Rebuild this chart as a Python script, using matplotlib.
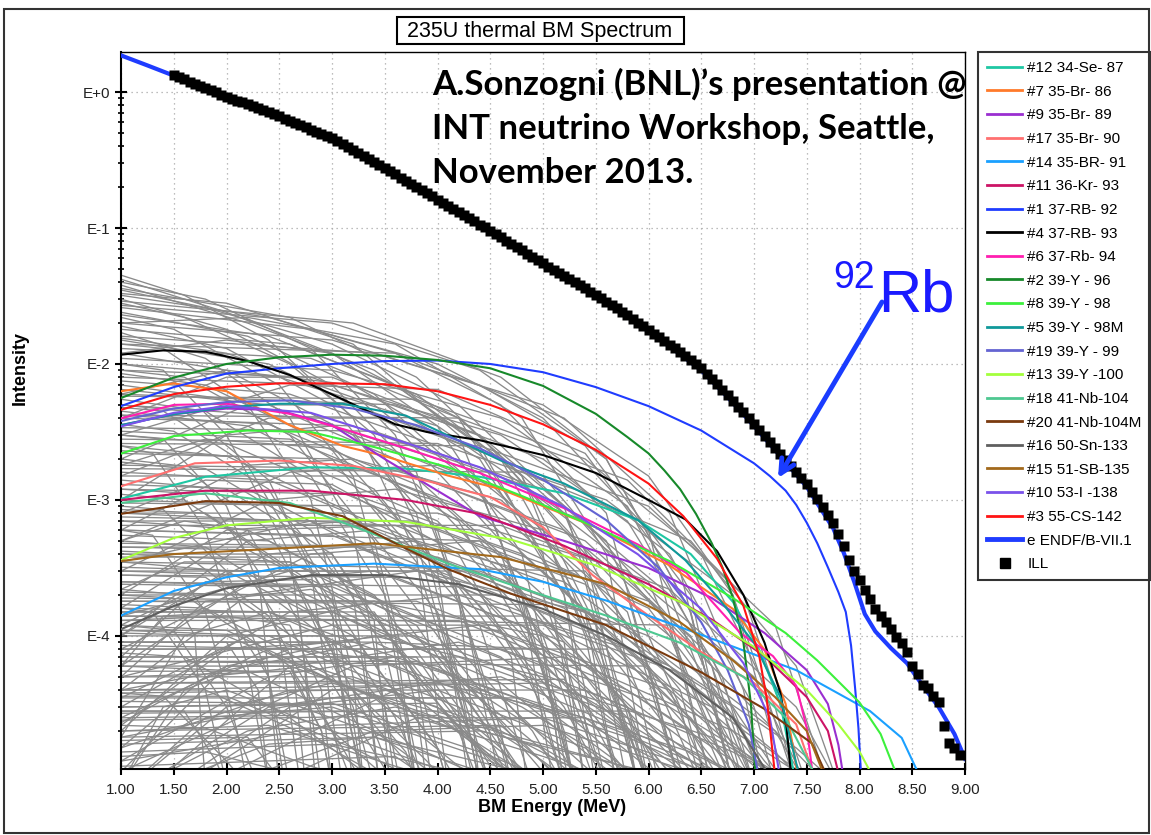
import numpy as np
import matplotlib
matplotlib.use("Agg")
import matplotlib.pyplot as plt
from matplotlib.lines import Line2D
from matplotlib.patches import Rectangle
from matplotlib.ticker import FixedLocator, FixedFormatter, LogLocator, NullFormatter

plt.rcParams['font.family'] = ['Liberation Sans', 'DejaVu Sans']

# ILL measured spectrum, 50 keV steps
ill_energy = np.round(np.linspace(1.5, 8.95, 150), 2)
ill_intensity = [
    1.33, 1.29, 1.24, 1.19, 1.15, 1.11, 1.07, 1.03, 0.993, 0.957,
    0.923, 0.893, 0.865, 0.838, 0.811, 0.785, 0.759, 0.733, 0.708, 0.684,
    0.661, 0.637, 0.614, 0.592, 0.570, 0.550, 0.530, 0.511, 0.492, 0.474,
    0.457, 0.435, 0.413, 0.393, 0.373, 0.355, 0.337, 0.321, 0.305, 0.290,
    0.275, 0.261, 0.248, 0.235, 0.223, 0.211, 0.200, 0.190, 0.180, 0.171,
    0.162, 0.154, 0.146, 0.138, 0.131, 0.124, 0.118, 0.112, 0.106, 0.101,
    0.0955, 0.0904, 0.0855, 0.0809, 0.0766, 0.0724, 0.0685, 0.0649, 0.0614, 0.0581,
    0.0550, 0.0521, 0.0494, 0.0469, 0.0445, 0.0422, 0.0400, 0.0379, 0.0360, 0.0341,
    0.0324, 0.0305, 0.0288, 0.0272, 0.0257, 0.0243, 0.0228, 0.0214, 0.0201, 0.0189,
    0.0178, 0.0167, 0.0157, 0.0148, 0.0139, 0.0130, 0.0122, 0.0114, 0.0107, 0.00998,
    0.00933, 0.00851, 0.00776, 0.00708, 0.00646, 0.00589, 0.00535, 0.00485, 0.00441, 0.00400,
    0.00363, 0.00328, 0.00296, 0.00268, 0.00242, 0.00219, 0.00198, 0.00179, 0.00161, 0.00146,
    0.00132, 0.00115, 0.00101, 8.83e-4, 7.73e-4, 6.76e-4, 5.62e-4, 4.57e-4, 3.63e-4, 3.02e-4,
    2.57e-4, 2.19e-4, 1.86e-4, 1.58e-4, 1.41e-4, 1.26e-4, 1.12e-4, 9.77e-5, 8.91e-5, 7.59e-5,
    6.03e-5, 5.25e-5, 4.37e-5, 4.12e-5, 3.63e-5, 3.24e-5, 2.19e-5, 1.62e-5, 1.51e-5, 1.32e-5,
]

# ENDF/B-VII.1 summation
endf_energy = [1.00, 1.25, 1.50, 1.75, 2.00, 2.25, 2.50, 2.75, 3.00, 3.25, 3.50, 3.75,
               4.00, 4.25, 4.50, 4.75, 5.00, 5.25, 5.50, 5.75, 6.00, 6.25, 6.50, 6.75,
               7.00, 7.25, 7.50, 7.75, 7.85, 7.95, 8.05, 8.15, 8.30, 8.45, 8.60, 8.75,
               8.90, 9.00]
endf_intensity = [1.86, 1.57, 1.32, 1.10, 0.915, 0.78, 0.655, 0.545, 0.452, 0.352, 0.272, 0.209,
                  0.160, 0.123, 0.0945, 0.0715, 0.0543, 0.0416, 0.0318, 0.0238, 0.0174, 0.0126,
                  0.0090, 0.0057, 0.0035, 0.0021, 0.00125, 6.2e-4, 4.1e-4, 2.5e-4, 1.45e-4,
                  1.08e-4, 8.1e-5, 6.3e-5, 4.3e-5, 3.0e-5, 1.9e-5, 1.25e-5]

# individual nuclides (legend order)
nuclide_labels = ['#12 34-Se- 87', '#7 35-Br- 86', '#9 35-Br- 89', '#17 35-Br- 90',
                  '#14 35-BR- 91', '#11 36-Kr- 93', '#1 37-RB- 92', '#4 37-RB- 93',
                  '#6 37-Rb- 94', '#2 39-Y - 96', '#8 39-Y - 98', '#5 39-Y - 98M',
                  '#19 39-Y - 99', '#13 39-Y -100', '#18 41-Nb-104', '#20 41-Nb-104M',
                  '#16 50-Sn-133', '#15 51-SB-135', '#10 53-I -138', '#3 55-CS-142']
nuclide_colors = ['#1fc7a3', '#ff7a2a', '#9a2fd0', '#ff7070', '#1aa0ff', '#cc1466',
                  '#1f3cff', '#000000', '#ff1fb0', '#17892a', '#3cf03c', '#10999a',
                  '#6464d2', '#a4ff3c', '#4ec891', '#7a3a0e', '#5f5f5f', '#a2691c',
                  '#7a52ea', '#ff1414']

se87_e = [1.0, 1.8, 2.8, 3.7, 4.4, 5.2, 5.9, 6.4, 6.8, 7.05, 7.25, 7.4]
se87_i = [1.02e-3, 1.48e-3, 1.74e-3, 1.7e-3, 1.48e-3, 1.12e-3, 7.1e-4, 4.0e-4, 1.78e-4, 7.9e-5, 3.16e-5, 8e-6]
br86_e = [1.0, 1.5, 2.0, 2.6, 3.1, 3.5, 4.1, 4.6, 5.5, 6.2, 6.8, 7.1, 7.3, 7.43]
br86_i = [6.3e-3, 7.2e-3, 6.3e-3, 3.55e-3, 2.5e-3, 2.1e-3, 1.51e-3, 1.2e-3, 6.3e-4, 3.3e-4, 1.58e-4, 7.9e-5, 3.16e-5, 8e-6]
br89_e = [1.0, 1.5, 2.0, 2.5, 3.0, 3.5, 4.4, 5.2, 6.0, 6.6, 7.1, 7.5, 7.7, 7.8, 7.86]
br89_i = [3.55e-3, 4.27e-3, 4.7e-3, 4.57e-3, 3.55e-3, 2.0e-3, 7.6e-4, 5.0e-4, 3.16e-4, 1.9e-4, 1.05e-4, 5.6e-5, 3.16e-5, 1.58e-5, 8e-6]
br90_e = [1.0, 1.7, 2.5, 3.2, 3.9, 4.5, 5.0, 5.47, 6.0, 6.5, 7.0, 7.4, 7.6]
br90_i = [1.26e-3, 1.86e-3, 1.95e-3, 1.78e-3, 1.38e-3, 1.05e-3, 6.3e-4, 2.8e-4, 1.41e-4, 7.6e-5, 4.5e-5, 2.24e-5, 8e-6]
br91_e = [1.0, 1.5, 2.0, 2.5, 3.4, 4.4, 5.0, 5.6, 6.5, 7.4, 8.1, 8.4, 8.61]
br91_i = [1.41e-4, 2.14e-4, 2.7e-4, 3.16e-4, 3.4e-4, 3.1e-4, 2.5e-4, 1.82e-4, 1.02e-4, 5.6e-5, 2.8e-5, 1.78e-5, 8e-6]
kr93_e = [1.0, 1.8, 2.8, 3.7, 4.4, 5.2, 6.0, 6.6, 7.1, 7.5, 7.7, 7.83]
kr93_i = [1.0e-3, 1.17e-3, 1.17e-3, 1.0e-3, 7.9e-4, 4.6e-4, 2.4e-4, 1.32e-4, 7.1e-5, 3.55e-5, 2.0e-5, 8e-6]
rb92_e = [1.0, 1.5, 2.0, 2.5, 3.0, 3.5, 4.0, 4.5, 5.0, 5.5, 6.0, 6.5, 7.0, 7.15, 7.3, 7.4, 7.5,
          7.6, 7.7, 7.8, 7.87, 7.92, 7.96, 7.99, 8.02]
rb92_i = [4.9e-3, 6.76e-3, 8.5e-3, 9.3e-3, 1.0e-2, 1.05e-2, 1.06e-2, 1.0e-2, 8.7e-3, 6.76e-3,
          4.9e-3, 3.24e-3, 1.86e-3, 1.5e-3, 1.17e-3, 9.2e-4, 6.8e-4, 4.8e-4, 3.2e-4, 2.1e-4,
          1.5e-4, 8.5e-5, 4.0e-5, 2.1e-5, 8e-6]
rb93_e = [1.0, 1.4, 1.8, 2.2, 2.6, 3.1, 3.6, 3.9, 4.4, 5.0, 5.5, 6.0, 6.35, 6.65, 6.9, 7.1, 7.25, 7.31, 7.36]
rb93_i = [1.17e-2, 1.26e-2, 1.23e-2, 1.05e-2, 8.3e-3, 5.5e-3, 3.6e-3, 3.16e-3, 2.75e-3, 2.14e-3, 1.58e-3, 1.0e-3, 7.2e-4, 4.2e-4, 2.0e-4, 8.9e-5, 3.8e-5, 2.1e-5, 8e-6]
rb94_e = [1.0, 1.5, 2.0, 2.6, 3.2, 3.7, 4.4, 5.2, 5.9, 6.36, 6.87, 7.18, 7.40, 7.50, 7.57]
rb94_i = [3.98e-3, 5.0e-3, 5.1e-3, 4.3e-3, 3.16e-3, 2.4e-3, 1.58e-3, 8.7e-4, 4.7e-4, 2.9e-4, 1.05e-4, 7.1e-5, 4.3e-5, 2.1e-5, 8e-6]
y96_e = [1.0, 1.5, 2.0, 2.5, 3.0, 3.5, 4.0, 4.5, 5.0, 5.5, 5.8, 6.0, 6.15, 6.3, 6.45, 6.6, 6.7,
         6.8, 6.9, 6.97, 7.02]
y96_i = [5.62e-3, 7.94e-3, 1.0e-2, 1.12e-2, 1.17e-2, 1.15e-2, 1.07e-2, 9.3e-3, 6.9e-3, 4.3e-3,
         2.9e-3, 2.2e-3, 1.65e-3, 1.2e-3, 7.9e-4, 4.8e-4, 3.2e-4, 1.9e-4, 8.9e-5, 3.2e-5, 8e-6]
y98_e = [1.0, 1.5, 2.2, 2.8, 3.4, 4.1, 4.8, 5.5, 6.2, 6.8, 7.3, 7.6, 8.0, 8.2, 8.39]
y98_i = [2.19e-3, 2.95e-3, 3.24e-3, 3.16e-3, 2.45e-3, 1.74e-3, 1.07e-3, 6.3e-4, 3.55e-4, 1.9e-4, 1.05e-4, 6.6e-5, 3.24e-5, 1.9e-5, 8e-6]
y98m_e = [1.0, 1.5, 2.0, 2.5, 3.1, 3.7, 4.6, 5.2, 5.9, 6.35, 6.65, 7.0, 7.25, 7.45]
y98m_i = [3.55e-3, 4.27e-3, 4.8e-3, 5.1e-3, 5.1e-3, 4.17e-3, 1.95e-3, 1.32e-3, 7.1e-4, 3.6e-4, 1.95e-4, 8.9e-5, 3.55e-5, 8e-6]
y99_e = [1.0, 1.5, 2.0, 2.6, 3.2, 3.8, 4.4, 5.0, 5.6, 6.1, 6.5, 6.75, 6.95, 7.06]
y99_i = [3.8e-3, 4.7e-3, 5.25e-3, 5.4e-3, 4.7e-3, 3.55e-3, 2.4e-3, 1.41e-3, 7.1e-4, 3.16e-4, 1.26e-4, 5.6e-5, 2.24e-5, 8e-6]
y100_e = [1.0, 1.5, 2.0, 2.8, 3.7, 4.7, 5.5, 6.3, 7.0, 7.5, 7.8, 8.0, 8.17]
y100_i = [3.6e-4, 5.25e-4, 6.5e-4, 7.4e-4, 6.9e-4, 5.1e-4, 3.3e-4, 1.78e-4, 8.3e-5, 4.0e-5, 2.24e-5, 1.41e-5, 8e-6]
nb104_e = [1.0, 1.8, 2.6, 3.4, 4.1, 4.8, 5.6, 6.3, 6.9, 7.3, 7.63]
nb104_i = [9.5e-4, 1.12e-3, 9.5e-4, 5.6e-4, 3.4e-4, 2.24e-4, 1.41e-4, 8.9e-5, 5.0e-5, 2.5e-5, 8e-6]
nb104m_e = [1.0, 1.8, 2.5, 3.1, 3.6, 4.1, 4.7, 5.6, 6.5, 7.1, 7.55, 7.73]
nb104m_i = [7.9e-4, 9.8e-4, 9.5e-4, 7.6e-4, 4.8e-4, 3.1e-4, 2.04e-4, 1.2e-4, 5.4e-5, 2.9e-5, 1.62e-5, 8e-6]
sn133_e = [1.0, 1.5, 2.0, 2.8, 3.5, 4.2, 5.0, 5.6, 6.2, 6.8, 7.2]
sn133_i = [1.12e-4, 1.66e-4, 2.24e-4, 2.8e-4, 2.8e-4, 2.4e-4, 1.58e-4, 1.0e-4, 5.6e-5, 2.5e-5, 8e-6]
sb135_e = [1.0, 1.5, 2.2, 3.4, 4.6, 5.6, 6.3, 6.8, 7.2, 7.5, 7.7]
sb135_i = [3.55e-4, 4.0e-4, 4.27e-4, 4.8e-4, 3.8e-4, 2.4e-4, 1.26e-4, 6.6e-5, 3.55e-5, 2.0e-5, 8e-6]
i138_e = [1.0, 1.5, 2.0, 2.8, 3.7, 4.4, 5.2, 5.9, 6.5, 6.9, 7.15, 7.26]
i138_i = [3.47e-3, 4.37e-3, 4.9e-3, 4.37e-3, 2.63e-3, 1.74e-3, 8.9e-4, 3.98e-4, 1.58e-4, 6.3e-5, 2.5e-5, 8e-6]
cs142_e = [1.0, 1.5, 2.0, 2.5, 3.0, 3.5, 4.0, 4.5, 5.0, 5.5, 6.0, 6.33, 6.65, 6.9, 7.05, 7.12, 7.21]
cs142_i = [4.6e-3, 6.0e-3, 6.8e-3, 7.2e-3, 7.2e-3, 7.1e-3, 6.3e-3, 5.0e-3, 3.6e-3, 2.34e-3, 1.32e-3, 7.6e-4, 3.7e-4, 1.66e-4, 7.1e-5, 3.5e-5, 8e-6]

nuclide_energy = [se87_e, br86_e, br89_e, br90_e, br91_e, kr93_e, rb92_e, rb93_e, rb94_e, y96_e,
                  y98_e, y98m_e, y99_e, y100_e, nb104_e, nb104m_e, sn133_e, sb135_e, i138_e, cs142_e]
nuclide_intensity = [se87_i, br86_i, br89_i, br90_i, br91_i, kr93_i, rb92_i, rb93_i, rb94_i, y96_i,
                     y98_i, y98m_i, y99_i, y100_i, nb104_i, nb104m_i, sn133_i, sb135_i, i138_i, cs142_i]

# all remaining nuclides, drawn in grey: (energy, intensity) nodes
other_nuclides = [
    [(1.0, 4.2e-2), (2.0, 2.4e-2), (3.0, 1.2e-2), (4.0, 3.5e-3), (4.8, 4e-4), (5.3, 8e-6)],
    [(1.0, 3.8e-2), (2.2, 2.0e-2), (3.4, 9e-3), (4.4, 2.5e-3), (5.2, 2e-4), (5.6, 8e-6)],
    [(1.0, 3.5e-2), (1.8, 2.6e-2), (3.0, 1.4e-2), (4.2, 5e-3), (5.2, 9e-4), (6.0, 8e-6)],
    [(1.0, 3.2e-2), (2.4, 2.2e-2), (3.6, 1.2e-2), (4.6, 5e-3), (5.6, 8e-4), (6.3, 8e-6)],
    [(1.0, 3.0e-2), (2.0, 1.8e-2), (3.0, 7e-3), (3.8, 1.6e-3), (4.3, 1e-4), (4.6, 8e-6)],
    [(1.0, 2.8e-2), (1.6, 2.2e-2), (2.6, 1.0e-2), (3.4, 3e-3), (4.0, 3e-4), (4.3, 8e-6)],
    [(1.0, 2.6e-2), (2.8, 1.8e-2), (4.0, 1.0e-2), (5.0, 4e-3), (6.0, 6e-4), (6.6, 8e-6)],
    [(1.0, 2.4e-2), (2.2, 1.6e-2), (3.4, 6e-3), (4.4, 1.2e-3), (5.0, 8e-5), (5.2, 8e-6)],
    [(1.0, 2.2e-2), (1.5, 1.8e-2), (2.5, 7e-3), (3.2, 1.5e-3), (3.6, 1e-4), (3.8, 8e-6)],
    [(1.0, 2.0e-2), (3.0, 1.5e-2), (4.4, 7e-3), (5.4, 2.5e-3), (6.3, 3e-4), (6.8, 8e-6)],
    [(1.0, 1.9e-2), (2.0, 1.3e-2), (3.0, 5e-3), (3.8, 8e-4), (4.2, 5e-5), (4.4, 8e-6)],
    [(1.0, 1.8e-2), (2.6, 1.4e-2), (3.8, 6e-3), (4.8, 1.5e-3), (5.5, 1.2e-4), (5.8, 8e-6)],
    [(1.0, 1.7e-2), (1.8, 1.1e-2), (2.6, 4e-3), (3.2, 6e-4), (3.5, 3e-5), (3.6, 8e-6)],
    [(1.0, 1.6e-2), (3.4, 1.2e-2), (5.0, 5e-3), (6.0, 1.5e-3), (6.8, 2e-4), (7.3, 8e-6)],
    [(1.0, 1.5e-2), (2.4, 1.0e-2), (3.6, 3.5e-3), (4.6, 5e-4), (5.1, 3e-5), (5.3, 8e-6)],
    [(1.0, 1.4e-2), (1.4, 1.3e-2), (2.2, 5e-3), (2.8, 1e-3), (3.2, 5e-5), (3.3, 8e-6)],
    [(1.0, 1.3e-2), (2.8, 1.1e-2), (4.2, 4e-3), (5.2, 8e-4), (5.9, 4e-5), (6.1, 8e-6)],
    [(1.0, 1.2e-2), (2.0, 9e-3), (3.2, 3e-3), (4.0, 6e-4), (4.6, 2e-5), (4.7, 8e-6)],
    [(1.0, 1.0e-2), (2.5, 8e-3), (4.0, 3.5e-3), (5.2, 8e-4), (6.0, 6e-5), (6.3, 8e-6)],
    [(1.0, 9e-3), (1.6, 8e-3), (2.6, 3e-3), (3.4, 5e-4), (3.8, 3e-5), (3.9, 8e-6)],
    [(1.0, 8e-3), (3.0, 7e-3), (4.6, 3e-3), (5.8, 7e-4), (6.7, 5e-5), (7.0, 8e-6)],
    [(1.0, 7e-3), (2.0, 5.5e-3), (3.0, 2e-3), (3.8, 3.5e-4), (4.3, 2e-5), (4.4, 8e-6)],
    [(1.0, 6.5e-3), (2.4, 5e-3), (3.6, 2e-3), (4.6, 4e-4), (5.2, 2e-5), (5.3, 8e-6)],
    [(1.0, 6e-3), (3.6, 5e-3), (5.0, 2e-3), (6.2, 4e-4), (7.0, 3e-5), (7.2, 8e-6)],
    [(1.0, 5.5e-3), (1.8, 4.5e-3), (2.8, 1.5e-3), (3.5, 2e-4), (3.8, 8e-6)],
    [(1.0, 5e-3), (2.8, 4e-3), (4.2, 1.5e-3), (5.2, 3e-4), (5.8, 2e-5), (5.9, 8e-6)],
    [(1.0, 4.5e-3), (2.2, 3.5e-3), (3.4, 1.2e-3), (4.2, 2e-4), (4.7, 8e-6)],
    [(1.0, 4e-3), (3.2, 3.5e-3), (4.8, 1.3e-3), (6.0, 2.5e-4), (6.6, 2e-5), (6.8, 8e-6)],
    [(1.0, 3.6e-3), (1.5, 3.2e-3), (2.4, 1.2e-3), (3.0, 2e-4), (3.3, 8e-6)],
    [(1.0, 3.2e-3), (2.6, 2.8e-3), (4.0, 1e-3), (5.0, 2e-4), (5.6, 8e-6)],
    [(1.0, 2.8e-3), (4.0, 2.6e-3), (5.6, 1e-3), (6.8, 2e-4), (7.4, 8e-6)],
    [(1.0, 2.5e-3), (2.0, 2.1e-3), (3.2, 8e-4), (4.0, 1.5e-4), (4.5, 8e-6)],
    [(1.0, 2.2e-3), (3.0, 2e-3), (4.4, 8e-4), (5.4, 1.5e-4), (6.0, 8e-6)],
    [(1.0, 2e-3), (1.8, 1.7e-3), (2.8, 6e-4), (3.5, 8e-5), (3.8, 8e-6)],
    [(1.0, 1.8e-3), (3.6, 1.7e-3), (5.2, 6e-4), (6.4, 1e-4), (7.0, 8e-6)],
    [(1.0, 1.6e-3), (2.4, 1.4e-3), (3.8, 5e-4), (4.8, 8e-5), (5.2, 8e-6)],
    [(1.0, 1.4e-3), (2.0, 1.2e-3), (3.0, 4e-4), (3.8, 5e-5), (4.1, 8e-6)],
    [(1.0, 1.2e-3), (3.2, 1.1e-3), (4.8, 4e-4), (6.0, 6e-5), (6.5, 8e-6)],
    [(1.0, 1.1e-3), (1.6, 1e-3), (2.6, 3e-4), (3.2, 3e-5), (3.4, 8e-6)],
    [(1.0, 1e-3), (2.8, 9e-4), (4.2, 3e-4), (5.2, 5e-5), (5.6, 8e-6)],
    [(1.0, 8e-4), (4.0, 8e-4), (5.8, 3e-4), (7.0, 5e-5), (7.5, 8e-6)],
    [(1.0, 7e-4), (2.2, 6e-4), (3.4, 2e-4), (4.2, 3e-5), (4.5, 8e-6)],
    [(1.0, 6e-4), (3.0, 5.5e-4), (4.4, 2e-4), (5.4, 3e-5), (5.8, 8e-6)],
    [(1.0, 5e-4), (1.8, 4.5e-4), (2.8, 1.5e-4), (3.4, 2e-5), (3.6, 8e-6)],
    [(1.0, 4.5e-4), (3.6, 4.5e-4), (5.2, 1.6e-4), (6.4, 2.5e-5), (6.9, 8e-6)],
    [(1.0, 4e-4), (2.6, 3.5e-4), (4.0, 1.2e-4), (4.9, 2e-5), (5.2, 8e-6)],
    [(1.0, 3.5e-4), (2.0, 3e-4), (3.2, 1e-4), (4.0, 1.5e-5), (4.2, 8e-6)],
    [(1.0, 3e-4), (4.4, 3e-4), (6.0, 1e-4), (7.2, 2e-5), (7.7, 8e-6)],
    [(1.0, 2.5e-4), (3.0, 2.3e-4), (4.6, 7e-5), (5.6, 1.5e-5), (5.9, 8e-6)],
    [(1.0, 2.2e-4), (1.6, 2e-4), (2.6, 6e-5), (3.1, 1.5e-5), (3.3, 8e-6)],
    [(1.0, 1.9e-4), (3.4, 1.8e-4), (5.0, 6e-5), (6.0, 1.5e-5), (6.3, 8e-6)],
    [(1.0, 1.6e-4), (2.4, 1.5e-4), (3.8, 5e-5), (4.6, 1.5e-5), (4.9, 8e-6)],
    [(1.0, 1.4e-4), (4.8, 1.4e-4), (6.4, 5e-5), (7.4, 1.5e-5), (7.8, 8e-6)],
    [(1.0, 1.2e-4), (2.0, 1.1e-4), (3.2, 4e-5), (3.9, 1.2e-5), (4.1, 8e-6)],
    [(1.0, 1e-4), (3.8, 1e-4), (5.4, 3.5e-5), (6.4, 1.2e-5), (6.7, 8e-6)],
    [(1.0, 8.5e-5), (2.8, 8e-5), (4.2, 3e-5), (5.0, 1.2e-5), (5.3, 8e-6)],
    [(1.0, 7e-5), (4.2, 7e-5), (5.8, 2.5e-5), (6.8, 1e-5), (7.1, 8e-6)],
    [(1.0, 6e-5), (2.2, 5.5e-5), (3.4, 2e-5), (4.1, 8e-6)],
    [(1.0, 5e-5), (3.2, 5e-5), (4.6, 2e-5), (5.6, 8e-6)],
    [(1.0, 4e-5), (5.0, 4.5e-5), (6.6, 1.8e-5), (7.4, 8e-6)],
    [(1.0, 3.3e-5), (2.6, 3.2e-5), (3.8, 1.5e-5), (4.6, 8e-6)],
    [(1.0, 2.7e-5), (3.6, 2.8e-5), (5.0, 1.3e-5), (5.8, 8e-6)],
    [(1.0, 2.2e-5), (1.8, 2.1e-5), (2.8, 1.1e-5), (3.4, 8e-6)],
    [(1.0, 1.8e-5), (4.4, 2e-5), (6.0, 1e-5), (6.5, 8e-6)],
    [(1.0, 8e-6), (1.6, 4e-5), (2.6, 8e-5), (4.0, 6e-5), (5.2, 1.5e-5), (5.6, 8e-6)],
    [(1.0, 1e-5), (2.0, 6e-5), (3.4, 1e-4), (5.0, 5e-5), (6.2, 1.2e-5), (6.5, 8e-6)],
    [(1.2, 8e-6), (2.2, 2e-5), (3.6, 3e-5), (5.0, 1.5e-5), (5.6, 8e-6)],
    [(1.0, 2e-5), (2.0, 1e-4), (3.4, 1.8e-4), (5.0, 1e-4), (6.4, 2e-5), (6.8, 8e-6)],
    [(1.0, 4e-5), (2.2, 2e-4), (3.8, 3e-4), (5.4, 1.5e-4), (6.8, 3e-5), (7.3, 8e-6)],
    [(1.0, 1.2e-4), (2.4, 4e-4), (3.8, 5e-4), (5.2, 2.5e-4), (6.4, 5e-5), (6.9, 8e-6)],
    [(1.0, 3e-4), (2.4, 1e-3), (3.6, 1.2e-3), (5.0, 6e-4), (6.2, 1e-4), (6.8, 8e-6)],
    [(1.0, 6e-4), (2.2, 1.8e-3), (3.2, 2e-3), (4.6, 1e-3), (5.8, 1.5e-4), (6.3, 8e-6)],
    [(1.0, 1e-3), (2.0, 3e-3), (3.0, 3.5e-3), (4.4, 1.6e-3), (5.4, 2.5e-4), (5.9, 8e-6)],
    [(1.0, 2e-3), (2.2, 5e-3), (3.2, 5e-3), (4.6, 2e-3), (5.8, 2e-4), (6.3, 8e-6)],
    [(1.0, 4e-3), (2.0, 8e-3), (3.0, 8e-3), (4.4, 3e-3), (5.4, 4e-4), (5.9, 8e-6)],
    [(1.0, 8e-6), (1.4, 3e-5), (2.0, 4e-5), (3.0, 2e-5), (3.6, 8e-6)],
    [(1.5, 8e-6), (2.6, 3e-5), (4.0, 4e-5), (5.4, 1.5e-5), (5.9, 8e-6)],
    [(1.0, 1.5e-5), (1.8, 5e-5), (2.8, 6e-5), (4.0, 3e-5), (4.8, 8e-6)],
    [(1.0, 4.5e-2), (1.6, 3.2e-2), (2.4, 1.5e-2), (3.2, 4e-3), (3.8, 4e-4), (4.1, 8e-6)],
    [(1.0, 3.6e-2), (2.6, 2.2e-2), (3.8, 8e-3), (4.8, 1.5e-3), (5.4, 1e-4), (5.7, 8e-6)],
    [(1.0, 2.9e-2), (3.2, 2.0e-2), (4.6, 8e-3), (5.6, 2e-3), (6.4, 1.5e-4), (6.8, 8e-6)],
    [(1.0, 2.3e-2), (2.4, 1.6e-2), (3.6, 7e-3), (4.6, 2e-3), (5.4, 1.5e-4), (5.7, 8e-6)],
    [(1.0, 1.55e-2), (2.0, 1.2e-2), (3.4, 5e-3), (4.4, 1.2e-3), (5.0, 8e-5), (5.2, 8e-6)],
    [(1.0, 1.1e-2), (3.0, 9e-3), (4.6, 4e-3), (5.8, 9e-4), (6.6, 6e-5), (6.9, 8e-6)],
    [(1.0, 8.5e-3), (1.8, 7e-3), (3.0, 2.5e-3), (3.8, 5e-4), (4.3, 2e-5), (4.4, 8e-6)],
    [(1.0, 7.5e-3), (2.6, 6e-3), (4.0, 2.5e-3), (5.0, 6e-4), (5.7, 3e-5), (5.9, 8e-6)],
    [(1.0, 5.8e-3), (3.8, 5.5e-3), (5.4, 2e-3), (6.5, 4e-4), (7.2, 3e-5), (7.4, 8e-6)],
    [(1.0, 4.8e-3), (1.4, 4.5e-3), (2.2, 1.8e-3), (2.8, 3e-4), (3.1, 8e-6)],
    [(1.0, 4.2e-3), (2.4, 3.6e-3), (3.8, 1.3e-3), (4.8, 2e-4), (5.3, 8e-6)],
    [(1.0, 3.4e-3), (3.4, 3.2e-3), (5.0, 1.2e-3), (6.2, 2e-4), (6.9, 8e-6)],
    [(1.0, 3.0e-3), (2.0, 2.6e-3), (3.4, 9e-4), (4.4, 1.2e-4), (4.9, 8e-6)],
    [(1.0, 2.6e-3), (4.4, 2.5e-3), (6.0, 9e-4), (7.2, 1.2e-4), (7.7, 8e-6)],
    [(1.0, 2.3e-3), (2.6, 2e-3), (4.0, 7e-4), (5.0, 1e-4), (5.5, 8e-6)],
    [(1.0, 1.9e-3), (1.6, 1.7e-3), (2.4, 6e-4), (3.0, 8e-5), (3.3, 8e-6)],
    [(1.0, 1.5e-3), (3.8, 1.5e-3), (5.4, 5e-4), (6.6, 7e-5), (7.1, 8e-6)],
    [(1.0, 1.3e-3), (2.2, 1.2e-3), (3.4, 4e-4), (4.4, 4e-5), (4.8, 8e-6)],
    [(1.0, 9.5e-4), (3.4, 9e-4), (5.0, 3e-4), (6.2, 4e-5), (6.6, 8e-6)],
    [(1.0, 8.5e-4), (1.8, 8e-4), (2.8, 2.5e-4), (3.6, 2.5e-5), (3.9, 8e-6)],
    [(1.0, 7.5e-4), (2.8, 7e-4), (4.2, 2.5e-4), (5.2, 3e-5), (5.6, 8e-6)],
    [(1.0, 6.5e-4), (4.6, 6.5e-4), (6.2, 2.2e-4), (7.4, 3e-5), (7.8, 8e-6)],
    [(1.0, 5.5e-4), (2.4, 5e-4), (3.6, 1.6e-4), (4.4, 2.5e-5), (4.7, 8e-6)],
    [(1.0, 4.8e-4), (3.2, 4.6e-4), (4.8, 1.5e-4), (5.8, 2.5e-5), (6.2, 8e-6)],
    [(1.0, 4.2e-4), (1.6, 4e-4), (2.4, 1.4e-4), (3.0, 2e-5), (3.2, 8e-6)],
    [(1.0, 3.8e-4), (4.0, 3.8e-4), (5.6, 1.3e-4), (6.8, 2e-5), (7.2, 8e-6)],
    [(1.0, 3.2e-4), (2.2, 3e-4), (3.6, 9e-5), (4.4, 1.5e-5), (4.6, 8e-6)],
    [(1.0, 2.8e-4), (3.6, 2.7e-4), (5.2, 9e-5), (6.2, 1.6e-5), (6.5, 8e-6)],
    [(1.0, 2.4e-4), (2.6, 2.3e-4), (4.0, 7e-5), (4.9, 1.4e-5), (5.2, 8e-6)],
    [(1.0, 2.0e-4), (4.6, 2e-4), (6.2, 6e-5), (7.2, 1.4e-5), (7.5, 8e-6)],
    [(1.0, 1.7e-4), (1.8, 1.6e-4), (3.0, 5e-5), (3.7, 1.2e-5), (3.9, 8e-6)],
    [(1.0, 1.5e-4), (3.0, 1.5e-4), (4.6, 4.5e-5), (5.5, 1.2e-5), (5.8, 8e-6)],
    [(1.0, 1.3e-4), (4.2, 1.3e-4), (5.8, 4e-5), (6.8, 1.2e-5), (7.1, 8e-6)],
    [(1.0, 1.1e-4), (2.4, 1e-4), (3.8, 3.5e-5), (4.6, 1.1e-5), (4.8, 8e-6)],
    [(1.0, 9e-5), (3.4, 9e-5), (4.8, 3e-5), (5.8, 1e-5), (6.0, 8e-6)],
    [(1.0, 7.5e-5), (1.6, 7e-5), (2.6, 2.5e-5), (3.3, 1e-5), (3.5, 8e-6)],
    [(1.0, 6.5e-5), (3.8, 6.5e-5), (5.4, 2.3e-5), (6.4, 9e-6)],
    [(1.0, 5.5e-5), (2.8, 5.5e-5), (4.2, 2e-5), (5.0, 8e-6)],
    [(1.0, 4.5e-5), (4.2, 4.5e-5), (5.8, 1.8e-5), (6.8, 8e-6)],
    [(1.0, 3.6e-5), (2.0, 3.6e-5), (3.2, 1.5e-5), (3.9, 8e-6)],
    [(1.0, 3e-5), (3.0, 3.2e-5), (4.4, 1.4e-5), (5.2, 8e-6)],
    [(1.0, 2.4e-5), (4.0, 2.6e-5), (5.6, 1.2e-5), (6.3, 8e-6)],
    [(1.0, 2e-5), (2.4, 2.2e-5), (3.6, 1.1e-5), (4.2, 8e-6)],
    [(1.0, 1.6e-5), (3.4, 1.8e-5), (4.8, 1e-5), (5.4, 8e-6)],
    [(1.0, 1.3e-5), (1.8, 1.4e-5), (2.8, 9e-6)],
    [(1.0, 1.2e-5), (2.4, 5e-5), (3.6, 7e-5), (5.0, 3e-5), (6.0, 8e-6)],
    [(1.1, 8e-6), (2.0, 3e-5), (3.0, 4.5e-5), (4.2, 2.5e-5), (5.0, 8e-6)],
    [(1.0, 3e-5), (2.6, 1.5e-4), (4.2, 2e-4), (5.8, 8e-5), (7.0, 1.2e-5), (7.3, 8e-6)],
    [(1.0, 6e-5), (2.2, 2.5e-4), (3.4, 3e-4), (4.8, 1.2e-4), (6.0, 1.5e-5), (6.3, 8e-6)],
    [(1.0, 8e-5), (2.8, 4e-4), (4.4, 5e-4), (6.0, 1.8e-4), (7.2, 2e-5), (7.5, 8e-6)],
    [(1.0, 2e-4), (2.0, 6e-4), (3.2, 7e-4), (4.6, 3e-4), (5.8, 3e-5), (6.1, 8e-6)],
    [(1.0, 5e-4), (2.6, 1.6e-3), (4.0, 1.8e-3), (5.4, 7e-4), (6.6, 6e-5), (7.0, 8e-6)],
    [(1.0, 1.5e-3), (2.4, 4e-3), (3.6, 4e-3), (5.0, 1.5e-3), (6.2, 1.2e-4), (6.6, 8e-6)],
    [(1.0, 3e-3), (2.6, 7e-3), (4.0, 6.5e-3), (5.4, 2.2e-3), (6.4, 2e-4), (6.8, 8e-6)],
    [(1.0, 1.8e-5), (1.6, 1e-4), (2.4, 1.5e-4), (3.6, 7e-5), (4.6, 1e-5), (4.8, 8e-6)],
    [(1.0, 5e-5), (1.8, 1.8e-4), (2.8, 2.2e-4), (4.0, 8e-5), (5.0, 1e-5), (5.2, 8e-6)],
    [(1.3, 8e-6), (2.6, 6e-5), (4.2, 9e-5), (5.8, 3e-5), (6.8, 8e-6)],
    [(1.0, 1e-4), (2.2, 5e-4), (3.4, 6e-4), (4.8, 2e-4), (5.8, 2e-5), (6.0, 8e-6)],
    [(1.6, 8e-6), (3.0, 4e-5), (4.6, 5e-5), (6.2, 1.5e-5), (6.8, 8e-6)],
    [(2.0, 8e-6), (3.4, 2e-5), (5.0, 2.2e-5), (6.4, 1e-5), (6.8, 8e-6)],
    [(1.0, 9e-4), (1.4, 8.5e-4), (2.0, 3e-4), (2.4, 5e-5), (2.6, 8e-6)],
    [(1.0, 6e-4), (1.3, 5.5e-4), (1.8, 1.5e-4), (2.1, 2e-5), (2.2, 8e-6)],
    [(1.0, 2.5e-3), (1.3, 2.2e-3), (1.8, 6e-4), (2.2, 6e-5), (2.4, 8e-6)],
    [(1.0, 1.2e-4), (1.5, 1.1e-4), (2.0, 3e-5), (2.3, 8e-6)],
    [(1.0, 5e-5), (3.0, 1.2e-4), (5.0, 1.2e-4), (6.6, 3e-5), (7.6, 8e-6)],
    [(1.0, 2.5e-5), (2.4, 8e-5), (4.4, 1.2e-4), (6.2, 4e-5), (7.2, 8e-6)],
    [(1.0, 1e-5), (3.2, 6e-5), (5.2, 7e-5), (6.8, 2e-5), (7.6, 8e-6)],
    [(1.8, 8e-6), (3.6, 4e-5), (5.4, 4e-5), (6.8, 1.4e-5), (7.4, 8e-6)],
    [(2.4, 8e-6), (3.8, 2.5e-5), (5.4, 2.5e-5), (6.8, 9e-6)],
    [(1.0, 1.4e-4), (2.6, 3e-4), (4.0, 3e-4), (5.6, 1e-4), (6.8, 1.2e-5), (7.0, 8e-6)],
    [(1.0, 3.5e-4), (2.8, 7e-4), (4.4, 6e-4), (6.0, 1.6e-4), (7.1, 1.2e-5), (7.3, 8e-6)],
    [(1.0, 2.2e-4), (1.6, 3.5e-4), (2.6, 3.5e-4), (3.8, 1.2e-4), (4.6, 1.5e-5), (4.8, 8e-6)],
    [(1.0, 8e-4), (1.8, 1.4e-3), (3.0, 1.3e-3), (4.2, 4e-4), (5.0, 3e-5), (5.2, 8e-6)],
    [(1.0, 1.8e-3), (1.8, 2.8e-3), (3.0, 2.4e-3), (4.2, 7e-4), (5.0, 6e-5), (5.3, 8e-6)],
    [(1.0, 6e-3), (2.0, 9e-3), (3.2, 7e-3), (4.4, 2e-3), (5.2, 2e-4), (5.5, 8e-6)],
    [(1.0, 1.2e-2), (2.0, 1.5e-2), (3.0, 1.2e-2), (4.2, 4e-3), (5.0, 4e-4), (5.4, 8e-6)],
    [(1.0, 2.0e-2), (2.2, 2.2e-2), (3.6, 1.4e-2), (4.8, 4e-3), (5.6, 4e-4), (6.0, 8e-6)],
    [(1.0, 3.3e-2), (2.0, 2.8e-2), (3.2, 1.4e-2), (4.2, 3e-3), (4.8, 2e-4), (5.1, 8e-6)],
    [(1.0, 4.0e-2), (1.8, 3.0e-2), (2.8, 1.3e-2), (3.6, 3e-3), (4.2, 2e-4), (4.4, 8e-6)],
    [(1.0, 2.7e-2), (3.0, 2.0e-2), (4.4, 9e-3), (5.6, 2e-3), (6.4, 1.5e-4), (6.8, 8e-6)],
    [(1.0, 1.4e-2), (3.6, 1.2e-2), (5.2, 4e-3), (6.2, 8e-4), (6.9, 4e-5), (7.1, 8e-6)],
    [(1.0, 9e-3), (2.8, 8e-3), (4.4, 3e-3), (5.6, 5e-4), (6.3, 3e-5), (6.5, 8e-6)],
    [(1.0, 4.2e-3), (4.2, 4e-3), (5.8, 1.4e-3), (6.9, 2e-4), (7.5, 8e-6)],
    [(1.0, 1.7e-3), (4.8, 1.6e-3), (6.4, 5e-4), (7.4, 6e-5), (7.8, 8e-6)],
    [(1.0, 7e-4), (3.8, 7e-4), (5.4, 2.4e-4), (6.6, 3e-5), (7.0, 8e-6)],
    [(1.0, 4.5e-4), (2.2, 4.3e-4), (3.4, 1.4e-4), (4.2, 2e-5), (4.4, 8e-6)],
    [(1.0, 2.8e-4), (1.8, 2.7e-4), (2.8, 8e-5), (3.4, 1.4e-5), (3.6, 8e-6)],
    [(1.0, 1.8e-4), (3.8, 1.8e-4), (5.4, 6e-5), (6.6, 1.2e-5), (6.9, 8e-6)],
    [(1.0, 1.05e-4), (2.0, 1e-4), (3.4, 3.5e-5), (4.2, 1.1e-5), (4.4, 8e-6)],
    [(1.0, 6e-5), (2.6, 6e-5), (4.0, 2.5e-5), (4.9, 8e-6)],
    [(1.0, 4e-5), (1.8, 4e-5), (2.8, 1.8e-5), (3.6, 8e-6)],
    [(1.0, 2.5e-5), (2.6, 2.6e-5), (3.8, 1.2e-5), (4.4, 8e-6)],
    [(1.0, 1.4e-5), (3.0, 1.6e-5), (4.2, 1e-5), (4.8, 8e-6)],
    [(1.0, 8e-5), (4.6, 8e-5), (6.2, 3e-5), (7.2, 1e-5), (7.4, 8e-6)],
    [(1.0, 3.5e-5), (4.8, 3.5e-5), (6.4, 1.4e-5), (7.0, 8e-6)],
    [(1.0, 3e-3), (1.4, 2.8e-3), (2.0, 9e-4), (2.5, 1e-4), (2.7, 8e-6)],
    [(1.0, 1e-2), (1.4, 9e-3), (2.0, 3e-3), (2.6, 4e-4), (2.9, 8e-6)],
    [(1.0, 5e-3), (1.6, 4.5e-3), (2.4, 1.4e-3), (3.0, 1.5e-4), (3.2, 8e-6)],
    [(1.0, 1.6e-4), (1.3, 1.5e-4), (1.8, 4e-5), (2.0, 8e-6)],
    [(1.0, 3.8e-5), (1.4, 3.6e-5), (2.0, 1.2e-5), (2.2, 8e-6)],
    [(1.0, 7e-6), (1.8, 2.5e-5), (3.0, 3e-5), (4.4, 1.3e-5), (5.0, 8e-6)],
    [(1.4, 8e-6), (2.4, 1.6e-5), (3.4, 1.8e-5), (4.6, 9e-6)],
    [(1.0, 2.2e-5), (2.0, 8e-5), (3.0, 9e-5), (4.4, 3.5e-5), (5.4, 8e-6)],
    [(1.0, 7e-5), (1.8, 2.5e-4), (2.8, 2.6e-4), (4.0, 8e-5), (4.8, 1e-5), (5.0, 8e-6)],
    [(1.0, 1.6e-4), (2.2, 6e-4), (3.6, 6.5e-4), (5.2, 2.2e-4), (6.4, 2e-5), (6.7, 8e-6)],
    [(1.0, 2e-4), (1.5, 1.9e-4), (1.7, 1e-4), (1.8, 8e-6)],
    [(1.0, 9e-5), (2.0, 9e-5), (2.3, 4e-5), (2.4, 8e-6)],
    [(1.0, 5e-5), (2.6, 5.5e-5), (2.9, 2e-5), (3.0, 8e-6)],
    [(1.0, 3e-4), (2.2, 2.8e-4), (2.6, 1e-4), (2.75, 8e-6)],
    [(1.0, 1.2e-3), (1.8, 1.1e-3), (2.3, 3e-4), (2.5, 8e-6)],
    [(1.0, 4e-4), (3.0, 4e-4), (3.4, 1.3e-4), (3.55, 8e-6)],
    [(1.0, 1.5e-4), (3.4, 1.5e-4), (3.8, 5e-5), (3.95, 8e-6)],
    [(1.0, 7e-5), (3.8, 7e-5), (4.2, 2.5e-5), (4.35, 8e-6)],
    [(1.0, 3e-5), (4.0, 3.2e-5), (4.4, 1.4e-5), (4.5, 8e-6)],
    [(1.0, 2.5e-4), (4.2, 2.3e-4), (4.7, 7e-5), (4.85, 8e-6)],
    [(1.0, 1.1e-4), (4.6, 1.1e-4), (5.1, 3e-5), (5.25, 8e-6)],
    [(1.0, 6e-4), (4.4, 5e-4), (5.2, 9e-5), (5.4, 8e-6)],
    [(1.0, 4.5e-5), (5.2, 4.8e-5), (5.6, 2e-5), (5.75, 8e-6)],
    [(1.0, 1.8e-4), (5.0, 1.7e-4), (5.8, 3e-5), (6.0, 8e-6)],
    [(1.0, 8e-5), (5.6, 8e-5), (6.2, 2e-5), (6.35, 8e-6)],
    [(1.0, 3.5e-4), (5.4, 3e-4), (6.3, 4e-5), (6.55, 8e-6)],
    [(1.0, 1.3e-4), (2.0, 1.4e-4), (2.6, 1.2e-4), (2.9, 4e-5), (3.0, 8e-6)],
    [(1.0, 2.3e-5), (2.0, 6e-5), (2.6, 6e-5), (2.9, 2e-5), (3.0, 8e-6)],
    [(1.0, 6e-5), (1.4, 1.4e-4), (2.0, 1.5e-4), (2.4, 5e-5), (2.55, 8e-6)],
    [(1.0, 1.5e-5), (2.6, 4e-5), (3.6, 4e-5), (4.0, 1.5e-5), (4.1, 8e-6)],
    [(1.0, 3.5e-5), (2.2, 1e-4), (3.2, 1e-4), (3.7, 3e-5), (3.85, 8e-6)],
    [(1.0, 1e-4), (2.0, 3e-4), (2.8, 3e-4), (3.3, 8e-5), (3.45, 8e-6)],
    [(1.0, 5e-4), (1.6, 7e-4), (2.2, 6e-4), (2.7, 1.2e-4), (2.85, 8e-6)],
    [(1.0, 1.8e-5), (3.0, 3.5e-5), (4.6, 3.5e-5), (5.2, 1.3e-5), (5.35, 8e-6)],
    [(1.0, 4e-5), (3.4, 9e-5), (5.0, 8e-5), (5.8, 2e-5), (6.0, 8e-6)],
    [(1.2, 8e-6), (2.4, 3e-5), (4.0, 4.5e-5), (5.4, 2.5e-5), (6.2, 8e-6)],
    [(1.0, 1.2e-5), (3.0, 2.2e-5), (5.0, 2.5e-5), (6.4, 1.1e-5), (6.7, 8e-6)],
    [(1.0, 2.8e-5), (1.6, 2.8e-5), (1.9, 1.2e-5), (2.0, 8e-6)],
    [(1.0, 1.7e-5), (2.2, 1.8e-5), (2.5, 9e-6)],
    [(1.0, 1.1e-5), (3.6, 1.3e-5), (4.0, 8e-6)],
    [(1.0, 2.1e-4), (2.4, 2e-4), (3.0, 9e-5), (3.3, 8e-6)],
    [(1.0, 8e-4), (2.6, 7e-4), (3.2, 2e-4), (3.45, 8e-6)],
    [(1.0, 9e-5), (3.0, 9e-5), (3.5, 3e-5), (3.65, 8e-6)],
    [(1.0, 3.8e-5), (3.2, 4e-5), (3.7, 1.4e-5), (3.8, 8e-6)],
    [(1.0, 2e-5), (4.6, 2.2e-5), (5.1, 1e-5), (5.2, 8e-6)],
    [(1.0, 6.5e-5), (6.0, 6e-5), (6.6, 1.5e-5), (6.75, 8e-6)],
    [(1.0, 2.8e-5), (5.8, 2.8e-5), (6.3, 1.1e-5), (6.4, 8e-6)],
    [(1.0, 1.4e-4), (6.2, 1.2e-4), (6.9, 2e-5), (7.1, 8e-6)],
]

W, H = 1151, 835
fig = plt.figure(figsize=(W / 100, H / 100), dpi=100)
ax = fig.add_axes([121 / W, 1 - 769 / H, (965 - 121) / W, (769 - 52) / H])

for curve in other_nuclides:
    e, i = zip(*curve)
    ax.plot(e, i, color='#8a8a8a', lw=0.95, zorder=2)

handles = []
for e, i, c, lab in zip(nuclide_energy, nuclide_intensity, nuclide_colors, nuclide_labels):
    ax.plot(e, i, color=c, lw=1.5, zorder=3)
    handles.append(Line2D([], [], color=c, lw=2, label=lab))

ax.plot(endf_energy, endf_intensity, color='#1f3cff', lw=3, zorder=4)
ax.plot(ill_energy, ill_intensity, 's', color='black', ms=6.8, mec='none', zorder=5)
handles.append(Line2D([], [], color='#1f3cff', lw=3.5, label='e ENDF/B-VII.1'))
handles.append(Line2D([], [], color='black', marker='s', ms=7, ls='none', label='ILL'))

ax.set_yscale('log')
ax.set_xlim(1.0, 9.0)
ax.set_ylim(1.05e-5, 1.97)

xt = np.arange(1.0, 9.01, 0.5)
ax.set_xticks(xt)
ax.set_xticklabels(['%.2f' % v for v in xt])
ax.yaxis.set_major_locator(FixedLocator([1, 0.1, 0.01, 1e-3, 1e-4]))
ax.yaxis.set_major_formatter(FixedFormatter(['E+0', 'E-1', 'E-2', 'E-3', 'E-4']))
ax.yaxis.set_minor_locator(LogLocator(base=10, subs=np.arange(2, 10)))
ax.yaxis.set_minor_formatter(NullFormatter())
ax.tick_params(axis='both', which='major', direction='inout', length=8, width=1.5,
               labelsize=11, colors='black', labelcolor='#222222')
ax.tick_params(axis='y', which='minor', direction='inout', length=5, width=1.2)
ax.tick_params(axis='x', pad=6)
ax.grid(True, which='major', color='#a8a8a8', ls=(0, (1, 3)), lw=0.9)
for s in ax.spines.values():
    s.set_linewidth(1.0)
ax.spines['left'].set_linewidth(1.5)
ax.spines['bottom'].set_linewidth(1.5)

leg = ax.legend(handles=handles, loc='upper left', bbox_to_anchor=(978 / W, 1 - 52 / H),
                bbox_transform=fig.transFigure, frameon=True, fancybox=False,
                edgecolor='black', fontsize=11, handlelength=2.3, handletextpad=0.33,
                labelspacing=0.63, borderaxespad=0, borderpad=0.6)
leg.get_frame().set_linewidth(1.5)

# title box
fig.patches.append(Rectangle((397 / W, 1 - 44 / H), (684 - 397) / W, 27 / H, transform=fig.transFigure,
                             fc='white', ec='black', lw=1.5))
fig.text(540 / W, 1 - 31 / H, '235U thermal BM Spectrum', ha='center', va='center', fontsize=15.5)
fig.text(20 / W, 1 - 368 / H, 'Intensity', rotation=90, ha='center', va='center',
         fontsize=13, fontweight='bold')
fig.text(552 / W, 1 - 808 / H, 'BM Energy (MeV)', ha='center', va='center',
         fontsize=13, fontweight='bold')

fig.text(432 / W, 1 - 68 / H,
         'A.Sonzogni (BNL)\u2019s presentation @\nINT neutrino Workshop, Seattle,\nNovember 2013.',
         ha='left', va='top', fontsize=25, fontweight='bold', family=['Lato', 'DejaVu Sans'],
         linespacing=1.45, zorder=6)

fig.text(833 / W, 1 - 288 / H, '92', color='#1a1aff', fontsize=27, va='baseline', ha='left')
fig.text(878 / W, 1 - 312 / H, 'Rb', color='#1a1aff', fontsize=43, va='baseline', ha='left')
ax.annotate('', xy=(778, H - 478), xycoords='figure pixels', xytext=(882, H - 302),
            textcoords='figure pixels',
            arrowprops=dict(arrowstyle='->,head_length=1.0,head_width=0.5', color='#1a3cff',
                            lw=3.5, shrinkA=0, shrinkB=0), zorder=7)

fig.patches.append(Rectangle((4 / W, 2 / H), (1149 - 4) / W, (833 - 9) / H, transform=fig.transFigure,
                             fill=False, ec='#333333', lw=1.5))

fig.savefig('out.png', dpi=100)
